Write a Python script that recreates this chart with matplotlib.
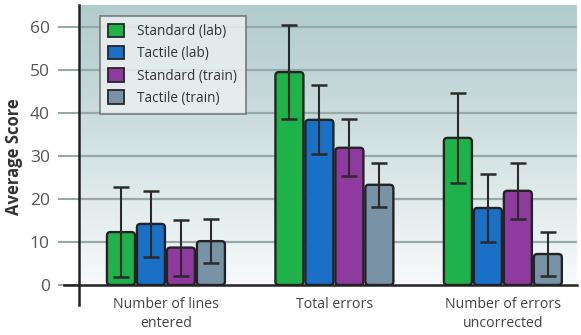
import numpy as np
import matplotlib
matplotlib.use("Agg")
import matplotlib.pyplot as plt
from matplotlib.patches import FancyBboxPatch
from matplotlib.lines import Line2D

plt.rcParams['font.family'] = ['Open Sans', 'DejaVu Sans']

# Average scores and error bar half-widths for each condition
categories = ["Number of lines\nentered", "Total errors", "Number of errors\nuncorrected"]
series = ["Standard (lab)", "Tactile (lab)", "Standard (train)", "Tactile (train)"]
means = {
    "Standard (lab)":   [12.3, 49.5, 34.2],
    "Tactile (lab)":    [14.2, 38.4, 17.9],
    "Standard (train)": [8.7, 31.9, 21.9],
    "Tactile (train)":  [10.2, 23.3, 7.2],
}
errors = {
    "Standard (lab)":   [10.5, 11.0, 10.4],
    "Tactile (lab)":    [7.6, 8.0, 8.0],
    "Standard (train)": [6.5, 6.6, 6.5],
    "Tactile (train)":  [5.1, 5.1, 5.1],
}
yticks = [0, 10, 20, 30, 40, 50, 60]
colors = ["#1fb24a", "#1a6fc6", "#8f3a9e", "#7893a6"]

fig = plt.figure(figsize=(5.81, 3.35), dpi=100)
ax = fig.add_axes([79 / 581, 1 - 285 / 335, (577 - 79) / 581, 280 / 335])
xmin, xmax, ymax = -0.516, 2.44, 65.1

# gradient background, teal-grey at the top fading to near white
grad = np.linspace(0, 1, 256).reshape(-1, 1)
top = np.array([0.70, 0.80, 0.80])
bot = np.array([0.97, 0.98, 0.985])
img = top + (bot - top) * grad[:, :, None] ** 1.1
ax.imshow(img, extent=[xmin, xmax, 0, ymax], aspect='auto', zorder=0)
ax.set_xlim(xmin, xmax)
ax.set_ylim(0, ymax)

for y in yticks[1:]:
    ax.axhline(y, color="#98a9a9", lw=1.6, zorder=1)

width = 0.178
x = np.arange(len(categories))
px_x = 1 / 168.5
px_y = ymax / 280
aspect = px_y / px_x
for i, name in enumerate(series):
    pos = x + (i - 1.5) * width
    for xp, m, e in zip(pos, means[name], errors[name]):
        box = FancyBboxPatch((xp - width / 2 + px_x, 0), width - 2 * px_x, m,
                             boxstyle="round,pad=0,rounding_size=%f" % (3.5 * px_x),
                             mutation_aspect=aspect, facecolor=colors[i],
                             edgecolor="#232323", lw=1.7, zorder=3)
        ax.add_patch(box)
    ax.errorbar(pos, means[name], yerr=errors[name], fmt='none', ecolor="#2a2a2a",
                elinewidth=1.5, capsize=5.5, capthick=1.8, zorder=4)

# legend
handles = [FancyBboxPatch((0, 0), 1, 1, facecolor=c, edgecolor="#252525", lw=1.3) for c in colors]
leg = ax.legend(handles, series, loc='upper left', bbox_to_anchor=(21 / 498, 0.962),
                fontsize=9.8, frameon=True, fancybox=False, handlelength=1.15,
                handleheight=1.15, handletextpad=1.0, labelspacing=0.5,
                borderpad=0.6, borderaxespad=0, labelcolor="#333333")
leg.get_frame().set_facecolor("#eef1f2")
leg.get_frame().set_edgecolor("#6b6b6b")
leg.get_frame().set_linewidth(1.3)
leg.set_zorder(5)

for s in ["top", "right", "left", "bottom"]:
    ax.spines[s].set_visible(False)

# axis lines crossing below/left of origin
ax.add_line(Line2D([0, 0], [-20 / 280, 1], transform=ax.transAxes, color="#222222",
                   lw=1.8, clip_on=False, zorder=6))
ax.add_line(Line2D([-15 / 498, 1], [0, 0], transform=ax.transAxes, color="#222222",
                   lw=1.8, clip_on=False, zorder=6))

ax.set_yticks(yticks)
ax.set_yticklabels([str(v) for v in yticks], fontsize=12.5, color="#555555")
ax.tick_params(axis='y', length=15, width=1.5, color="#98a9a9", pad=6)
ax.set_xticks(x)
ax.set_xticklabels(categories, fontsize=10.2, color="#444444", linespacing=1.3)
ax.tick_params(axis='x', length=0, pad=9)

ax.set_ylabel("Average Score", fontsize=12, fontweight='bold', color="#333333")
ax.yaxis.set_label_coords(-0.112, 0.46)

fig.savefig("out.png", dpi=100)
